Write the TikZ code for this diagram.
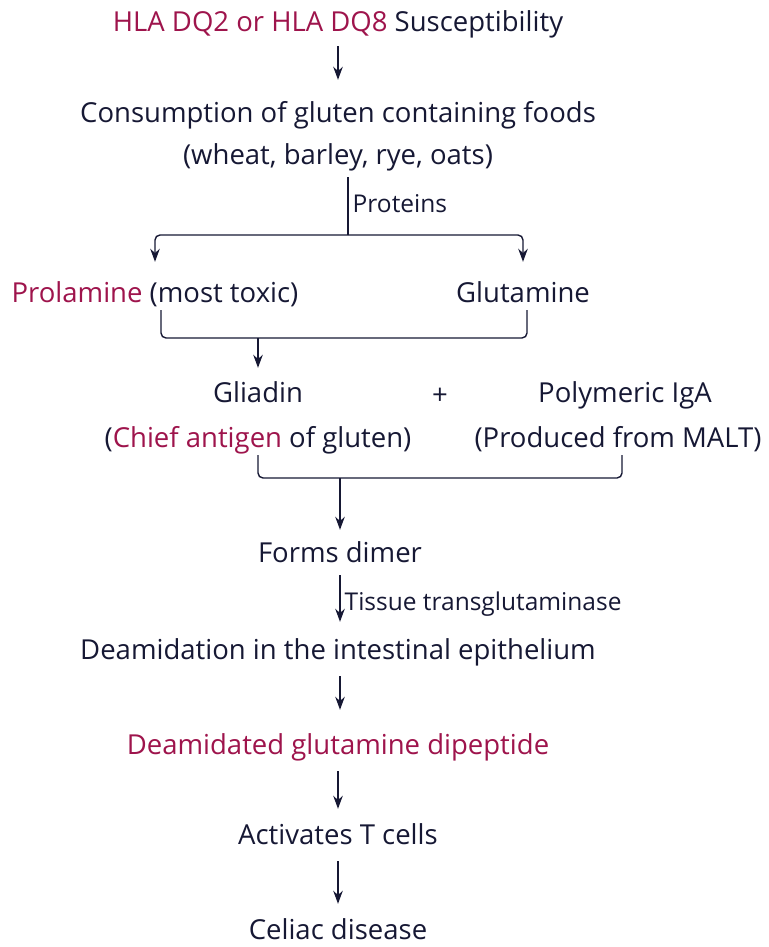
\documentclass[tikz,border=0pt]{standalone}
\usepackage{fontspec}
\setmainfont{Open Sans}
\usepackage{tikz}
\usetikzlibrary{positioning, arrows.meta}

\definecolor{ink}{RGB}{22,24,52}
\definecolor{rose}{RGB}{158,20,76}
\newcommand{\hl}[1]{\textcolor{rose}{#1}}

\begin{document}
\begin{tikzpicture}[x=1pt, y=1pt, node distance=91pt, >={Stealth[length=13pt, width=9.5pt]}, line width=1.4pt]
    \tikzstyle{txt}=[text=ink, inner sep=0pt, text height=20pt, text depth=7pt, font=\fontsize{27.5}{32}\selectfont]
    \tikzstyle{lbl}=[text=ink, inner sep=4pt, font=\fontsize{24.5}{28}\selectfont]
    \tikzstyle{arr}=[->, draw=ink, shorten <=7pt, shorten >=15pt]
    \useasboundingbox (0,0) rectangle (768,-947);
    \node[txt] (hla) at (338,-25) {\hl{HLA DQ2 or HLA DQ8} Susceptibility};
    \node[txt, below of=hla] (cons) {Consumption of gluten containing foods};
    \node[txt, below of=cons, node distance=42pt] (foods) {(wheat, barley, rye, oats)};
    \node[txt] (prol) at (155,-296) {\hl{Prolamine} (most toxic)};
    \node[txt] (glut) at (523,-296) {Glutamine};
    \node[txt] (gliadin) at (258,-396) {Gliadin};
    \node[txt, below of=gliadin, node distance=45pt] (chief) {(\hl{Chief antigen} of gluten)};
    \node[txt] (plus) at (440,-398) {+};
    \node[txt] (iga) at (625,-396) {Polymeric IgA};
    \node[txt, below of=iga, node distance=45pt, xshift=-7pt] (malt) {(Produced from MALT)};
    \node[txt] (dimer) at (340,-556) {Forms dimer};
    \node[txt, below of=dimer, node distance=97pt, xshift=-2pt] (deam) {Deamidation in the intestinal epithelium};
    \node[txt, below of=deam, node distance=95pt] (dipep) {\hl{Deamidated glutamine dipeptide}};
    \node[txt, below of=dipep, node distance=90pt] (tcell) {Activates T cells};
    \node[txt, below of=tcell, node distance=95pt] (celiac) {Celiac disease};
    % branching and joining points
    \coordinate (split) at (348,-235);
    \coordinate (join1) at (258,-338);
    \coordinate (join2) at (340,-478);

    \draw[arr, shorten >=22pt] (hla) -- (cons);
    \draw[draw=ink, shorten <=5pt] (foods.south -| split) -- (split) node[lbl, midway, right] {Proteins};
    \draw[->, draw=ink, rounded corners=5pt, shorten >=20pt] (split) -| (prol);
    \draw[->, draw=ink, rounded corners=5pt, shorten >=20pt] (split) -| (glut);
    \draw[draw=ink, rounded corners=5pt] ([xshift=6pt]prol.south) |- (join1) -| ([xshift=4pt]glut.south);
    \draw[->, draw=ink, shorten >=14pt] (join1) -- (gliadin);
    \draw[draw=ink, rounded corners=5pt] (chief.south) |- (join2) -| ([xshift=4pt]malt.south);
    \draw[->, draw=ink, shorten >=12pt] (join2) -- (dimer);
    \draw[arr, shorten <=5pt, shorten >=17pt] (dimer) -- (dimer |- deam.north) node[lbl, midway, right] {Tissue transglutaminase};
    \draw[arr, shorten <=9pt, shorten >=24pt] (deam.south -| dimer) -- (dimer |- dipep.north);
    \draw[arr, shorten <=9pt] (dipep) -- (tcell);
    \draw[arr, shorten <=9pt] (tcell) -- (celiac);
  \end{tikzpicture}
\end{document}
